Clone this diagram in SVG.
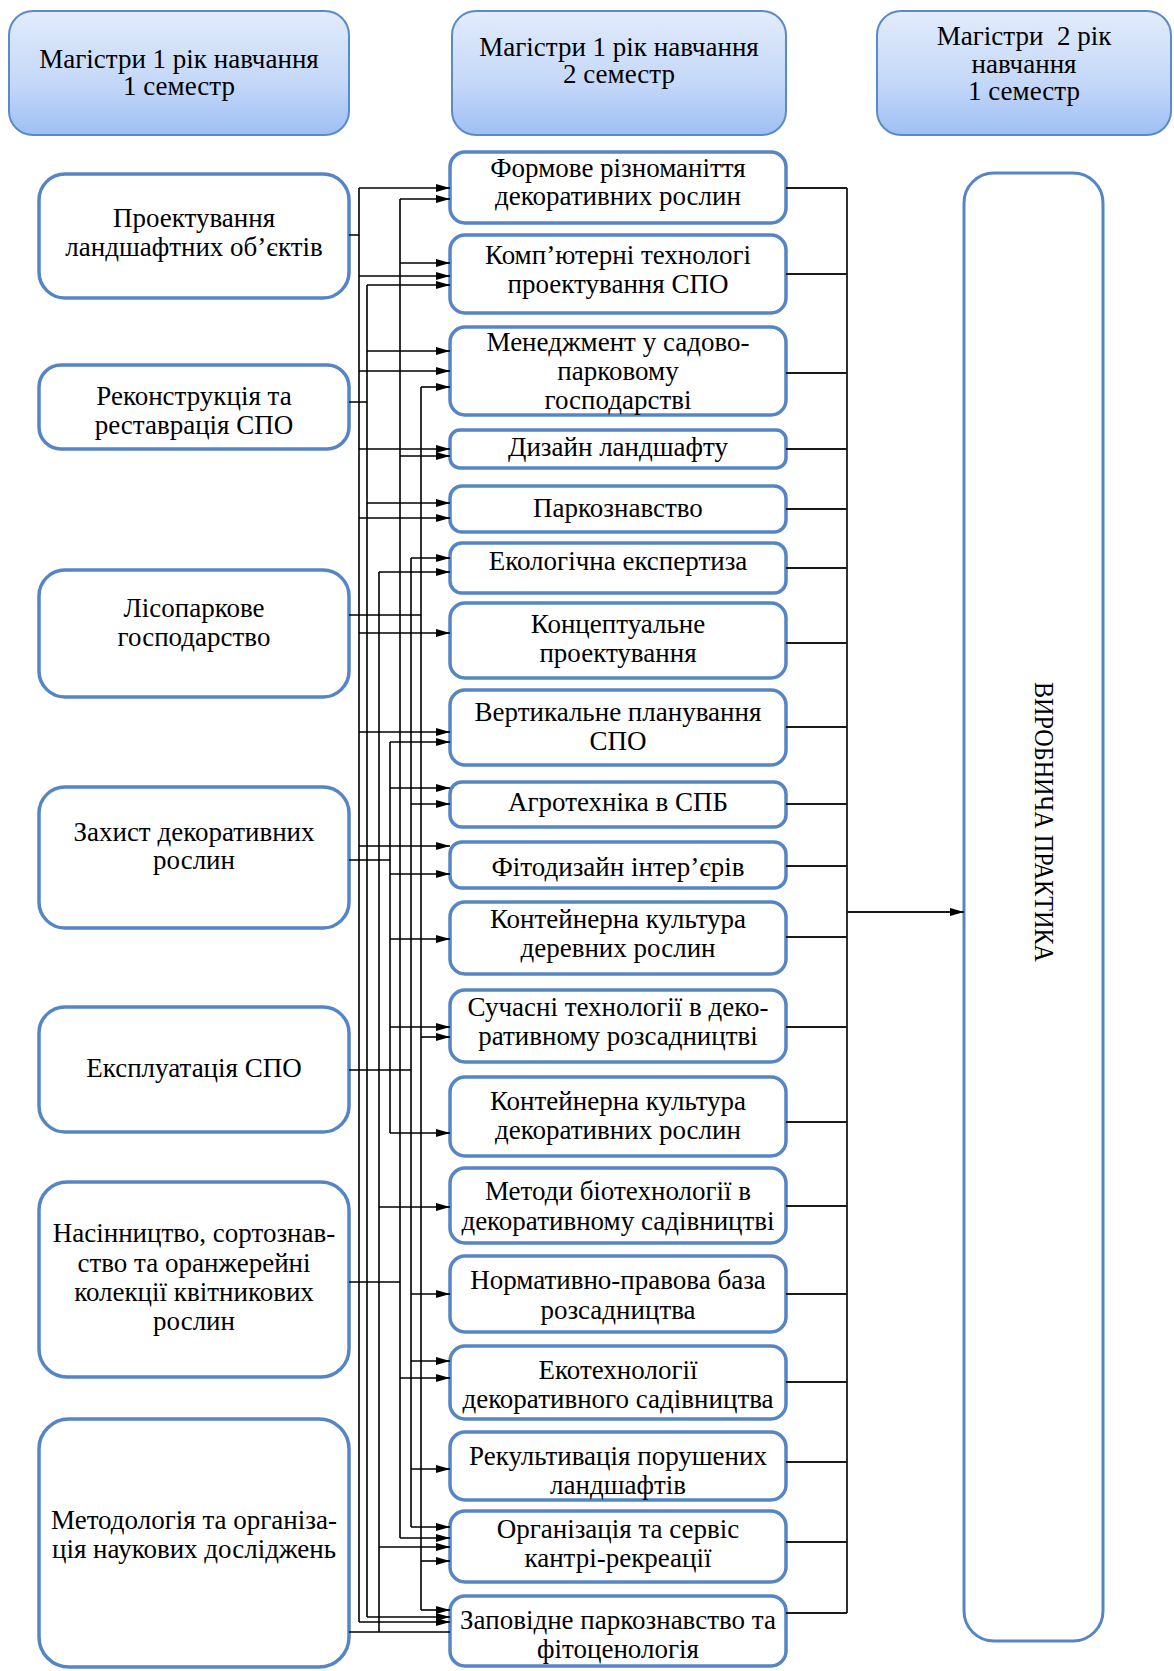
<svg xmlns="http://www.w3.org/2000/svg" width="1174" height="1671" viewBox="0 0 1174 1671">
<defs>
<linearGradient id="hg" x1="0" y1="0" x2="0" y2="1">
<stop offset="0" stop-color="#e2ecfb"/>
<stop offset="0.6" stop-color="#c3d7f8"/>
<stop offset="1" stop-color="#9ebff4"/>
</linearGradient>
<marker id="ah" markerWidth="14" markerHeight="8" refX="14" refY="4" orient="auto" markerUnits="userSpaceOnUse">
<path d="M0,0 L14,4 L0,8 z" fill="#000"/>
</marker>
</defs>
<style>
.hdr{fill:url(#hg);stroke:#5a8ac8;stroke-width:2}
.lb{fill:#fff;stroke:#5585c5;stroke-width:3.5}
.mb{fill:#fff;stroke:#5585c5;stroke-width:3.5}
.rb{fill:#fff;stroke:#5585c5;stroke-width:3}
text{font-family:"Liberation Serif","Times New Roman",serif;font-size:27px;fill:#000;text-anchor:middle}
.c path{fill:none;stroke:#000;stroke-width:1.6}
.c path.a{marker-end:url(#ah)}
.r path{fill:none;stroke:#1a1a1a;stroke-width:1.8}
</style>
<rect width="1174" height="1671" fill="#fff"/>

<g id="h1"><rect class="hdr" x="9" y="11" width="340" height="124" rx="24"/>
<text x="179" y="68">Магістри 1 рік навчання</text><text x="179" y="95">1 семестр</text></g>
<g id="h2"><rect class="hdr" x="452" y="11" width="334" height="124" rx="24"/>
<text x="619" y="56">Магістри 1 рік навчання</text><text x="619" y="83">2 семестр</text></g>
<g id="h3"><rect class="hdr" x="877" y="11" width="294" height="124" rx="24"/>
<text x="1024" y="45" xml:space="preserve">Магістри  2 рік</text><text x="1024" y="73">навчання</text><text x="1024" y="100">1 семестр</text></g>

<g id="l1"><rect class="lb" x="39" y="174" width="310" height="124" rx="26"/>
<text x="194" y="227">Проектування</text><text x="194" y="256">ландшафтних об’єктів</text></g>
<g id="l2"><rect class="lb" x="39" y="365" width="310" height="84" rx="22"/>
<text x="194" y="405">Реконструкція та</text><text x="194" y="434">реставрація СПО</text></g>
<g id="l3"><rect class="lb" x="39" y="570" width="310" height="127" rx="26"/>
<text x="194" y="617">Лісопаркове</text><text x="194" y="646">господарство</text></g>
<g id="l4"><rect class="lb" x="39" y="787" width="310" height="141" rx="26"/>
<text x="194" y="841">Захист декоративних</text><text x="194" y="869">рослин</text></g>
<g id="l5"><rect class="lb" x="39" y="1007" width="310" height="125" rx="26"/>
<text x="194" y="1077">Експлуатація СПО</text></g>
<g id="l6"><rect class="lb" x="39" y="1182" width="310" height="195" rx="28"/>
<text x="194" y="1242">Насінництво, сортознав-</text><text x="194" y="1272">ство та оранжерейні</text><text x="194" y="1301">колекції квітникових</text><text x="194" y="1330">рослин</text></g>
<g id="l7"><rect class="lb" x="39" y="1419" width="310" height="248" rx="30"/>
<text x="194" y="1529">Методологія та організа-</text><text x="194" y="1558">ція наукових досліджень</text></g>

<g id="m1"><rect class="mb" x="450" y="152" width="336" height="71" rx="15"/>
<text x="618" y="177">Формове різноманіття</text><text x="618" y="205">декоративних рослин</text></g>
<g id="m2"><rect class="mb" x="450" y="235" width="336" height="78" rx="15"/>
<text x="618" y="264">Комп’ютерні технологі</text><text x="618" y="293">проектування СПО</text></g>
<g id="m3"><rect class="mb" x="450" y="327" width="336" height="88" rx="15"/>
<text x="618" y="351">Менеджмент у садово-</text><text x="618" y="380">парковому</text><text x="618" y="409">господарстві</text></g>
<g id="m4"><rect class="mb" x="450" y="430" width="336" height="38" rx="10"/>
<text x="618" y="456">Дизайн ландшафту</text></g>
<g id="m5"><rect class="mb" x="450" y="486" width="336" height="46" rx="12"/>
<text x="618" y="517">Паркознавство</text></g>
<g id="m6"><rect class="mb" x="450" y="543" width="336" height="50" rx="12"/>
<text x="618" y="570">Екологічна експертиза</text></g>
<g id="m7"><rect class="mb" x="450" y="603" width="336" height="75" rx="15"/>
<text x="618" y="633">Концептуальне</text><text x="618" y="662">проектування</text></g>
<g id="m8"><rect class="mb" x="450" y="690" width="336" height="75" rx="15"/>
<text x="618" y="721">Вертикальне планування</text><text x="618" y="750">СПО</text></g>
<g id="m9"><rect class="mb" x="450" y="782" width="336" height="45" rx="12"/>
<text x="618" y="811">Агротехніка в СПБ</text></g>
<g id="m10"><rect class="mb" x="450" y="842" width="336" height="46" rx="12"/>
<text x="618" y="876">Фітодизайн інтер’єрів</text></g>
<g id="m11"><rect class="mb" x="450" y="902" width="336" height="72" rx="15"/>
<text x="618" y="928">Контейнерна культура</text><text x="618" y="957">деревних рослин</text></g>
<g id="m12"><rect class="mb" x="450" y="990" width="336" height="72" rx="15"/>
<text x="618" y="1016">Сучасні технології в деко-</text><text x="618" y="1045">ративному розсадництві</text></g>
<g id="m13"><rect class="mb" x="450" y="1077" width="336" height="79" rx="15"/>
<text x="618" y="1110">Контейнерна культура</text><text x="618" y="1139">декоративних рослин</text></g>
<g id="m14"><rect class="mb" x="450" y="1168" width="336" height="75" rx="15"/>
<text x="618" y="1200">Методи біотехнології в</text><text x="618" y="1230">декоративному садівництві</text></g>
<g id="m15"><rect class="mb" x="450" y="1256" width="336" height="76" rx="15"/>
<text x="618" y="1289">Нормативно-правова база</text><text x="618" y="1319">розсадництва</text></g>
<g id="m16"><rect class="mb" x="450" y="1346" width="336" height="73" rx="15"/>
<text x="618" y="1379">Екотехнології</text><text x="618" y="1408">декоративного садівництва</text></g>
<g id="m17"><rect class="mb" x="450" y="1432" width="336" height="68" rx="15"/>
<text x="618" y="1465">Рекультивація порушених</text><text x="618" y="1494">ландшафтів</text></g>
<g id="m18"><rect class="mb" x="450" y="1511" width="336" height="71" rx="15"/>
<text x="618" y="1538">Організація та сервіс</text><text x="618" y="1567">кантрі-рекреації</text></g>
<g id="m19"><rect class="mb" x="450" y="1596" width="336" height="70" rx="15"/>
<text x="618" y="1629">Заповідне паркознавство та</text><text x="618" y="1658">фітоценологія</text></g>

<g id="practice"><rect class="rb" x="964" y="173" width="139" height="1468" rx="30"/>
<text transform="translate(1045,822) rotate(90)" x="0" y="10" font-size="30" textLength="280" lengthAdjust="spacingAndGlyphs">ВИРОБНИЧА ПРАКТИКА</text></g>

<g id="connectors">
<g class="c">
<path d="M349,235 H359 M359,188 V1622"/>
<path class="a" d="M359,188 H450"/><path class="a" d="M359,276 H450"/><path class="a" d="M359,371 H450"/><path class="a" d="M359,449 H450"/><path class="a" d="M359,518 H450"/><path class="a" d="M359,633 H450"/><path class="a" d="M359,732 H450"/><path class="a" d="M359,846 H450"/><path class="a" d="M359,1622 H450"/>
<path d="M349,402 H367 M367,285 V1617"/>
<path class="a" d="M367,285 H450"/><path class="a" d="M367,351 H450"/><path class="a" d="M367,503 H450"/><path class="a" d="M367,1617 H450"/>
<path d="M349,1632 H450 M379,572 V1632"/>
<path class="a" d="M379,572 H450"/><path class="a" d="M379,1207 H450"/><path class="a" d="M379,1547 H450"/>
<path d="M349,860 H390 M390,742 V1133"/>
<path class="a" d="M390,742 H450"/><path class="a" d="M390,788 H450"/><path class="a" d="M390,874 H450"/><path class="a" d="M390,939 H450"/><path class="a" d="M390,1027 H450"/><path class="a" d="M390,1133 H450"/>
<path d="M349,1282 H400 M400,199 V1538"/>
<path class="a" d="M400,199 H450"/><path class="a" d="M400,263 H450"/><path class="a" d="M400,456 H450"/><path class="a" d="M400,1378 H450"/><path class="a" d="M400,1538 H450"/>
<path d="M349,1070 H411 M411,558 V1527"/>
<path class="a" d="M411,558 H450"/><path class="a" d="M411,804 H450"/><path class="a" d="M411,1294 H450"/><path class="a" d="M411,1361 H450"/><path class="a" d="M411,1469 H450"/><path class="a" d="M411,1527 H450"/>
<path d="M349,615 H421 M421,387 V1610"/>
<path class="a" d="M421,387 H450"/><path class="a" d="M421,1037 H450"/><path class="a" d="M421,1561 H450"/><path class="a" d="M421,1610 H450"/>
</g>
<g class="r">
<path d="M847,188 V1613"/>
<path d="M786,188 H847 M786,274 H847 M786,373 H847 M786,449 H847 M786,509 H847 M786,568 H847 M786,643 H847 M786,727 H847 M786,804 H847 M786,866 H847 M786,937 H847 M786,1027 H847 M786,1122 H847 M786,1206 H847 M786,1294 H847 M786,1382 H847 M786,1462 H847 M786,1542 H847 M786,1613 H847"/>
<path d="M847,912 H964" marker-end="url(#ah)"/>
</g>
</g>
</svg>
